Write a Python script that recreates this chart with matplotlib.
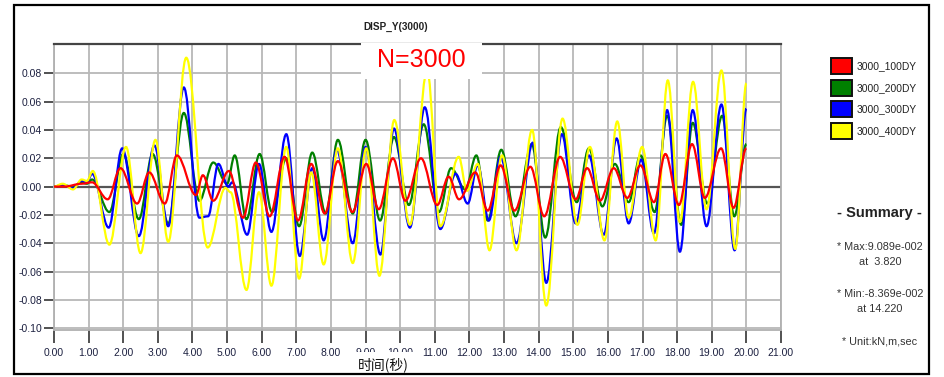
import numpy as np
import matplotlib
matplotlib.use('Agg')
import matplotlib.pyplot as plt
from matplotlib.patches import Rectangle, PathPatch
from matplotlib.path import Path

plt.rcParams['font.family'] = ['Liberation Sans', 'Noto Sans CJK SC', 'DejaVu Sans']

W, H = 944, 377

# (time s, displacement m) read at the peaks and troughs of each trace
red_pts = np.array([
    (0, 0), (0.3, 0.0), (0.8, 0.002), (1.1, 0.003), (1.55, -0.009), (1.92, 0.013),
    (2.4, -0.012), (2.75, 0.010), (3.2, -0.012), (3.55, 0.022), (4.1, -0.006),
    (4.3, 0.008), (4.6, -0.010), (5.05, 0.011), (5.46, -0.022), (5.83, 0.017),
    (6.23, -0.021), (6.66, 0.021), (7.05, -0.024), (7.43, 0.016), (7.82, -0.019),
    (8.2, 0.018), (8.62, -0.018), (9.02, 0.016), (9.38, -0.016), (9.79, 0.020),
    (10.15, -0.010), (10.6, 0.020), (11.07, -0.013), (11.4, 0.007), (11.7, -0.009),
    (12.17, 0.010), (12.53, -0.017), (12.9, 0.015), (13.3, -0.017), (13.76, 0.014),
    (14.16, -0.021), (14.62, 0.021), (15.07, -0.009), (15.4, 0.013), (15.77, -0.010),
    (16.17, 0.013), (16.56, -0.008), (16.94, 0.015), (17.33, -0.011), (17.66, 0.023),
    (18.05, -0.013), (18.43, 0.030), (18.8, -0.008), (19.27, 0.027), (19.63, -0.015),
    (20.0, 0.027)])

green_pts = np.array([
    (0, 0), (0.25, 0.001), (0.55, 0.0), (0.8, 0.003), (0.95, 0.002), (1.1, 0.005),
    (1.6, -0.018), (2.0, 0.023), (2.45, -0.023), (2.85, 0.023),
    (3.3, -0.026), (3.75, 0.052), (4.2, -0.010), (4.6, 0.017), (5.0, 0.002),
    (5.22, 0.022), (5.56, -0.023), (5.94, 0.023), (6.3, -0.018), (6.71, 0.020),
    (7.08, -0.028), (7.46, 0.024), (7.85, -0.019), (8.2, 0.033), (8.63, -0.019),
    (9.0, 0.033), (9.42, -0.024), (9.82, 0.035), (10.25, -0.013), (10.68, 0.044),
    (11.12, -0.018), (11.47, 0.013), (11.88, -0.002), (12.2, 0.022), (12.53, -0.024),
    (12.92, 0.026), (13.33, -0.021), (13.8, 0.030), (14.19, -0.036), (14.64, 0.042),
    (15.1, -0.011), (15.45, 0.027), (15.84, -0.014), (16.2, 0.016), (16.6, -0.011),
    (16.94, 0.022), (17.35, -0.018), (17.71, 0.050), (18.12, -0.027), (18.45, 0.045),
    (18.87, -0.012), (19.3, 0.050), (19.65, -0.021), (20.0, 0.030)])

blue_pts = np.array([
    (0, 0), (0.25, 0.001), (0.55, -0.001), (0.8, 0.004), (0.95, 0.003), (1.1, 0.009),
    (1.58, -0.029), (1.97, 0.027), (2.45, -0.035), (2.9, 0.029),
    (3.3, -0.028), (3.75, 0.070), (4.2, -0.022), (4.45, -0.021), (4.75, 0.016),
    (5.03, 0.0), (5.15, 0.003), (5.58, -0.034), (5.92, 0.016), (6.28, -0.032),
    (6.71, 0.037), (7.1, -0.049), (7.46, 0.013), (7.79, -0.038), (8.17, 0.026),
    (8.63, -0.040), (9.0, 0.028), (9.43, -0.048), (9.82, 0.041), (10.28, -0.029),
    (10.71, 0.056), (11.16, -0.030), (11.6, 0.009), (11.95, -0.012), (12.24, 0.015),
    (12.56, -0.024), (12.9, 0.021), (13.36, -0.040), (13.83, 0.031), (14.22, -0.068),
    (14.67, 0.037), (15.07, -0.026), (15.45, 0.022), (15.88, -0.034), (16.25, 0.034),
    (16.6, -0.026), (16.96, 0.019), (17.33, -0.033), (17.71, 0.054), (18.08, -0.046),
    (18.45, 0.054), (18.85, -0.028), (19.28, 0.058), (19.66, -0.045), (20.0, 0.055)])

yellow_pts = np.array([
    (0, 0), (0.25, 0.002), (0.55, -0.002), (0.8, 0.005), (0.95, 0.004),
    (1.12, 0.011), (1.6, -0.041), (2.08, 0.028), (2.5, -0.047),
    (2.93, 0.033), (3.3, -0.039), (3.82, 0.091), (4.44, -0.043), (4.95, -0.001),
    (5.1, -0.004), (5.56, -0.073), (5.92, -0.004), (6.28, -0.070), (6.71, 0.028),
    (7.08, -0.065), (7.43, 0.010), (7.79, -0.055), (8.2, 0.027), (8.63, -0.054),
    (9.02, 0.027), (9.4, -0.063), (9.83, 0.047), (10.28, -0.027), (10.78, 0.082),
    (11.16, -0.028), (11.69, 0.021), (11.93, -0.003), (12.24, 0.016), (12.58, -0.045),
    (12.94, 0.022), (13.36, -0.045), (13.81, 0.040), (14.22, -0.084), (14.69, 0.048),
    (15.12, -0.027), (15.48, 0.028), (15.9, -0.038), (16.27, 0.046), (16.6, -0.022),
    (16.99, 0.028), (17.38, -0.038), (17.73, 0.075), (18.08, -0.025), (18.46, 0.074),
    (18.85, -0.016), (19.28, 0.082), (19.68, -0.044), (20.0, 0.073)])

series_names = ['3000_100DY', '3000_200DY', '3000_300DY', '3000_400DY']
series_colors = ['#ff0000', '#008000', '#0000ff', '#ffff00']
series_data = [red_pts, green_pts, blue_pts, yellow_pts]
series_z = [6, 3, 4, 5]

x_ticks = np.arange(0, 22, 1)
y_ticks = [-0.10, -0.08, -0.06, -0.04, -0.02, 0.00, 0.02, 0.04, 0.06, 0.08]

summary_lines = ['* Max:9.089e-002', 'at  3.820', '* Min:-8.369e-002', 'at 14.220',
                 '* Unit:kN,m,sec']


def fx(x):
    return x / W


def fy(y):
    return 1 - y / H


def smooth_path(pts, k=0.36):
    # bezier segments with flat tangents at each read peak / trough
    verts = [tuple(pts[0])]
    codes = [Path.MOVETO]
    for (t0, v0), (t1, v1) in zip(pts[:-1], pts[1:]):
        dt = t1 - t0
        verts += [(t0 + k * dt, v0), (t1 - k * dt, v1), (t1, v1)]
        codes += [Path.CURVE4] * 3
    return Path(verts, codes)


fig = plt.figure(figsize=(W / 100, H / 100), dpi=100)
ax = fig.add_axes([fx(54), fy(330), fx(781) - fx(54), fy(44) - fy(330)])

for pts, c, z in zip(series_data, series_colors, series_z):
    ax.add_patch(PathPatch(smooth_path(pts), facecolor='none', edgecolor=c,
                           lw=1.6, zorder=z, transform=ax.transData))

ax.axhline(0, color='#555555', lw=1.6, zorder=2)

ax.set_xlim(0, 21)
ax.set_ylim(-0.1013, 0.1007)
ax.set_xticks(x_ticks)
ax.set_xticklabels(['%.2f' % v for v in x_ticks])
ax.set_yticks(y_ticks)
ax.set_yticklabels(['%.2f' % v for v in y_ticks])
ax.grid(True, color='#b8b8b8', lw=1.3, zorder=0)
ax.set_axisbelow(True)
ax.tick_params(axis='x', length=9, width=1.2, pad=4, labelsize=7.5,
               color='#333333', labelcolor='#1c2040')
ax.tick_params(axis='y', length=7, width=1.2, pad=1.5, labelsize=7.5,
               color='#333333', labelcolor='#1c2040')
for side in ['left', 'right', 'bottom']:
    ax.spines[side].set_color('#b0b0b0')
    ax.spines[side].set_linewidth(1.3)
ax.spines['top'].set_color('#444444')
ax.spines['top'].set_linewidth(1.6)

# title and the white "N=3000" label box
fig.text(fx(396), fy(27), 'DISP_Y(3000)', ha='center', va='center',
         fontsize=7.2, fontweight='bold', color='#222222')
fig.add_artist(Rectangle((fx(361), fy(79)), fx(482) - fx(361), fy(43) - fy(79),
                         transform=fig.transFigure, facecolor='white',
                         edgecolor='none', zorder=5))
fig.text(fx(421), fy(60), 'N=3000', ha='center', va='center', fontsize=18,
         color='#ff0000', zorder=6)

# x label over a white patch, as in the original
fig.add_artist(Rectangle((fx(355), fy(373)), fx(413) - fx(355), fy(352) - fy(373),
                         transform=fig.transFigure, facecolor='white',
                         edgecolor='none', zorder=5))
fig.text(fx(383), fy(365), '时间(秒)', ha='center', va='center', fontsize=10,
         family=['Noto Sans CJK SC', 'DejaVu Sans'], color='#111111', zorder=6)

# legend
for i, (name, c) in enumerate(zip(series_names, series_colors)):
    top = 58 + i * 21.7
    fig.add_artist(Rectangle((fx(831), fy(top + 16)), fx(852) - fx(831), fy(top) - fy(top + 16),
                             transform=fig.transFigure, facecolor=c,
                             edgecolor='#111111', lw=1.4))
    fig.text(fx(857), fy(top + 8), name, ha='left', va='center', fontsize=7.4,
             color='#222222')

# summary block
fig.text(fx(879), fy(213), '- Summary -', ha='center', va='center', fontsize=10.5,
         fontweight='bold', color='#222222')
summary_y = [247, 262, 294, 309, 342]
for s, yy in zip(summary_lines, summary_y):
    fig.text(fx(880), fy(yy), s, ha='center', va='center', fontsize=7.8,
             color='#333333')

# outer frame
fig.add_artist(Rectangle((fx(14), fy(374)), fx(929) - fx(14), fy(5) - fy(374),
                         transform=fig.transFigure, fill=False,
                         edgecolor='black', lw=1.6, zorder=7))

fig.savefig('out.png', dpi=100)
